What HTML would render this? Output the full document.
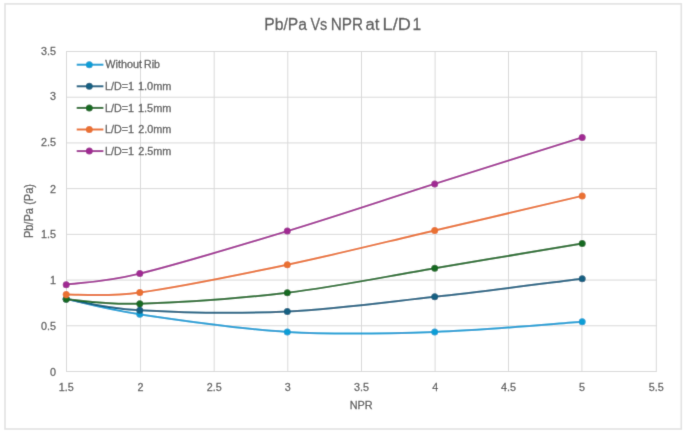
<!DOCTYPE html>
<html><head><meta charset="utf-8"><style>
html,body{margin:0;padding:0;background:#fff;}
svg{display:block;font-family:"Liberation Sans",sans-serif;font-kerning:none;}
</style></head><body>
<svg width="685" height="433" viewBox="0 0 685 433">
<defs><filter id="bl" x="0" y="0" width="685" height="433" filterUnits="userSpaceOnUse"><feConvolveMatrix order="3" kernelMatrix="0.01134 0.08382 0.01134 0.08382 0.61935 0.08382 0.01134 0.08382 0.01134" edgeMode="duplicate"/></filter></defs>
<rect width="685" height="433" fill="#fff"/>
<g filter="url(#bl)">
<rect width="685" height="433" fill="#fff"/>
<rect x="5" y="3.9" width="676.3" height="425.1" fill="none" stroke="#e2e2e2" stroke-width="1.6"/>
<g stroke="#d9d9d9" stroke-width="1"><line x1="66" y1="371.50" x2="656.8" y2="371.50"/><line x1="66" y1="325.79" x2="656.8" y2="325.79"/><line x1="66" y1="280.07" x2="656.8" y2="280.07"/><line x1="66" y1="234.36" x2="656.8" y2="234.36"/><line x1="66" y1="188.64" x2="656.8" y2="188.64"/><line x1="66" y1="142.93" x2="656.8" y2="142.93"/><line x1="66" y1="97.21" x2="656.8" y2="97.21"/><line x1="66" y1="51.50" x2="656.8" y2="51.50"/><line x1="66.50" y1="51.5" x2="66.50" y2="371.5"/><line x1="140.50" y1="51.5" x2="140.50" y2="371.5"/><line x1="214.20" y1="51.5" x2="214.20" y2="371.5"/><line x1="287.80" y1="51.5" x2="287.80" y2="371.5"/><line x1="361.50" y1="51.5" x2="361.50" y2="371.5"/><line x1="435.10" y1="51.5" x2="435.10" y2="371.5"/><line x1="508.50" y1="51.5" x2="508.50" y2="371.5"/><line x1="581.90" y1="51.5" x2="581.90" y2="371.5"/><line x1="656.30" y1="51.5" x2="656.30" y2="371.5"/></g>
<g fill="#595959" stroke="#595959" stroke-width="0.28"><text x="49.92" y="375.59" font-size="11.60" textLength="6.00" lengthAdjust="spacingAndGlyphs">0</text>
<text x="40.96" y="330.19" font-size="11.60" textLength="15.00" lengthAdjust="spacingAndGlyphs">0.5</text>
<text x="50.03" y="283.99" font-size="11.60" textLength="6.00" lengthAdjust="spacingAndGlyphs">1</text>
<text x="40.96" y="238.49" font-size="11.60" textLength="15.00" lengthAdjust="spacingAndGlyphs">1.5</text>
<text x="50.04" y="192.59" font-size="11.60" textLength="6.00" lengthAdjust="spacingAndGlyphs">2</text>
<text x="40.96" y="146.09" font-size="11.60" textLength="15.00" lengthAdjust="spacingAndGlyphs">2.5</text>
<text x="49.97" y="100.29" font-size="11.60" textLength="6.00" lengthAdjust="spacingAndGlyphs">3</text>
<text x="40.96" y="54.69" font-size="11.60" textLength="15.00" lengthAdjust="spacingAndGlyphs">3.5</text>
<text x="58.82" y="390.50" font-size="11.60" textLength="15.00" lengthAdjust="spacingAndGlyphs">1.5</text>
<text x="137.50" y="390.50" font-size="11.60" textLength="6.00" lengthAdjust="spacingAndGlyphs">2</text>
<text x="206.66" y="390.50" font-size="11.60" textLength="15.00" lengthAdjust="spacingAndGlyphs">2.5</text>
<text x="284.83" y="390.50" font-size="11.60" textLength="6.00" lengthAdjust="spacingAndGlyphs">3</text>
<text x="354.02" y="390.50" font-size="11.60" textLength="15.00" lengthAdjust="spacingAndGlyphs">3.5</text>
<text x="432.13" y="390.50" font-size="11.60" textLength="6.00" lengthAdjust="spacingAndGlyphs">4</text>
<text x="501.10" y="390.50" font-size="11.60" textLength="15.00" lengthAdjust="spacingAndGlyphs">4.5</text>
<text x="578.91" y="390.50" font-size="11.60" textLength="6.00" lengthAdjust="spacingAndGlyphs">5</text>
<text x="648.81" y="390.50" font-size="11.60" textLength="15.00" lengthAdjust="spacingAndGlyphs">5.5</text>
<text x="349.71" y="408.80" font-size="11.60" textLength="23.00" lengthAdjust="spacingAndGlyphs">NPR</text>
<text x="264.21" y="30.30" font-size="17.30" textLength="42.79" lengthAdjust="spacingAndGlyphs">Pb/Pa</text>
<text x="310.44" y="30.30" font-size="17.30" textLength="16.89" lengthAdjust="spacingAndGlyphs">Vs</text>
<text x="330.64" y="30.30" font-size="17.30" textLength="32.37" lengthAdjust="spacingAndGlyphs">NPR</text>
<text x="365.39" y="30.30" font-size="17.30" textLength="13.93" lengthAdjust="spacingAndGlyphs">at</text>
<text x="382.61" y="30.30" font-size="17.30" textLength="28.26" lengthAdjust="spacingAndGlyphs">L/D</text>
<text x="412.62" y="30.30" font-size="17.30" textLength="8.64" lengthAdjust="spacingAndGlyphs">1</text>
<text x="105.35" y="68.40" font-size="10.20" textLength="36.73" lengthAdjust="spacingAndGlyphs">Without</text>
<text x="144.03" y="68.40" font-size="10.20" textLength="15.92" lengthAdjust="spacingAndGlyphs">Rib</text>
<text x="105.02" y="90.00" font-size="10.20" textLength="29.01" lengthAdjust="spacingAndGlyphs">L/D=1</text>
<text x="137.97" y="90.00" font-size="10.20" textLength="33.35" lengthAdjust="spacingAndGlyphs">1.0mm</text>
<text x="105.02" y="111.60" font-size="10.20" textLength="29.01" lengthAdjust="spacingAndGlyphs">L/D=1</text>
<text x="137.97" y="111.60" font-size="10.20" textLength="33.35" lengthAdjust="spacingAndGlyphs">1.5mm</text>
<text x="105.02" y="133.20" font-size="10.20" textLength="29.01" lengthAdjust="spacingAndGlyphs">L/D=1</text>
<text x="138.26" y="133.20" font-size="10.20" textLength="33.06" lengthAdjust="spacingAndGlyphs">2.0mm</text>
<text x="105.02" y="154.80" font-size="10.20" textLength="29.01" lengthAdjust="spacingAndGlyphs">L/D=1</text>
<text x="138.26" y="154.80" font-size="10.20" textLength="33.06" lengthAdjust="spacingAndGlyphs">2.5mm</text>
<g transform="translate(33.4,237.2) rotate(-90)"><text x="-0.90" y="0.00" font-size="12.00" textLength="30.00" lengthAdjust="spacingAndGlyphs">Pb/Pa</text><text x="32.42" y="0.00" font-size="12.00" textLength="20.76" lengthAdjust="spacingAndGlyphs">(Pa)</text></g></g>
<path d="M66.20,299.00 C78.47,301.55 102.95,308.82 139.80,314.30 C176.65,319.78 238.15,328.95 287.30,331.90 C336.45,334.85 385.55,333.68 434.70,332.00 C483.85,330.32 557.62,323.50 582.20,321.80" fill="none" stroke="#0F9ED5" stroke-width="2" stroke-linejoin="round" stroke-linecap="round"/>
<g fill="#0F9ED5"><circle cx="66.20" cy="299.00" r="3.5"/><circle cx="139.80" cy="314.30" r="3.5"/><circle cx="287.30" cy="331.90" r="3.5"/><circle cx="434.70" cy="332.00" r="3.5"/><circle cx="582.20" cy="321.80" r="3.5"/></g>
<path d="M66.20,299.00 C78.47,300.88 102.95,308.22 139.80,310.30 C176.65,312.38 238.15,313.75 287.30,311.50 C336.45,309.25 385.55,302.25 434.70,296.80 C483.85,291.35 557.62,281.80 582.20,278.80" fill="none" stroke="#156082" stroke-width="2" stroke-linejoin="round" stroke-linecap="round"/>
<g fill="#156082"><circle cx="66.20" cy="299.00" r="3.5"/><circle cx="139.80" cy="310.30" r="3.5"/><circle cx="287.30" cy="311.50" r="3.5"/><circle cx="434.70" cy="296.80" r="3.5"/><circle cx="582.20" cy="278.80" r="3.5"/></g>
<path d="M66.20,299.20 C78.47,299.95 102.95,304.78 139.80,303.70 C176.65,302.62 238.15,298.60 287.30,292.70 C336.45,286.80 385.55,276.52 434.70,268.30 C483.85,260.08 557.62,247.55 582.20,243.40" fill="none" stroke="#196B24" stroke-width="2" stroke-linejoin="round" stroke-linecap="round"/>
<g fill="#196B24"><circle cx="66.20" cy="299.20" r="3.5"/><circle cx="139.80" cy="303.70" r="3.5"/><circle cx="287.30" cy="292.70" r="3.5"/><circle cx="434.70" cy="268.30" r="3.5"/><circle cx="582.20" cy="243.40" r="3.5"/></g>
<path d="M66.20,294.40 C78.47,294.08 102.95,297.45 139.80,292.50 C176.65,287.55 238.15,275.03 287.30,264.70 C336.45,254.37 385.55,241.97 434.70,230.50 C483.85,219.03 557.62,201.67 582.20,195.90" fill="none" stroke="#E97132" stroke-width="2" stroke-linejoin="round" stroke-linecap="round"/>
<g fill="#E97132"><circle cx="66.20" cy="294.40" r="3.5"/><circle cx="139.80" cy="292.50" r="3.5"/><circle cx="287.30" cy="264.70" r="3.5"/><circle cx="434.70" cy="230.50" r="3.5"/><circle cx="582.20" cy="195.90" r="3.5"/></g>
<path d="M66.20,284.70 C78.47,282.85 102.95,282.53 139.80,273.60 C176.65,264.67 238.15,246.05 287.30,231.10 C336.45,216.15 385.55,199.52 434.70,183.90 C483.85,168.28 557.62,145.15 582.20,137.40" fill="none" stroke="#A02B93" stroke-width="2" stroke-linejoin="round" stroke-linecap="round"/>
<g fill="#A02B93"><circle cx="66.20" cy="284.70" r="3.5"/><circle cx="139.80" cy="273.60" r="3.5"/><circle cx="287.30" cy="231.10" r="3.5"/><circle cx="434.70" cy="183.90" r="3.5"/><circle cx="582.20" cy="137.40" r="3.5"/></g>
<line x1="76.7" y1="64.70" x2="103.4" y2="64.70" stroke="#0F9ED5" stroke-width="2"/>
<circle cx="89.3" cy="64.70" r="3.5" fill="#0F9ED5"/>
<line x1="76.7" y1="86.30" x2="103.4" y2="86.30" stroke="#156082" stroke-width="2"/>
<circle cx="89.3" cy="86.30" r="3.5" fill="#156082"/>
<line x1="76.7" y1="107.90" x2="103.4" y2="107.90" stroke="#196B24" stroke-width="2"/>
<circle cx="89.3" cy="107.90" r="3.5" fill="#196B24"/>
<line x1="76.7" y1="129.50" x2="103.4" y2="129.50" stroke="#E97132" stroke-width="2"/>
<circle cx="89.3" cy="129.50" r="3.5" fill="#E97132"/>
<line x1="76.7" y1="151.10" x2="103.4" y2="151.10" stroke="#A02B93" stroke-width="2"/>
<circle cx="89.3" cy="151.10" r="3.5" fill="#A02B93"/>
</g>
</svg>
</body></html>
